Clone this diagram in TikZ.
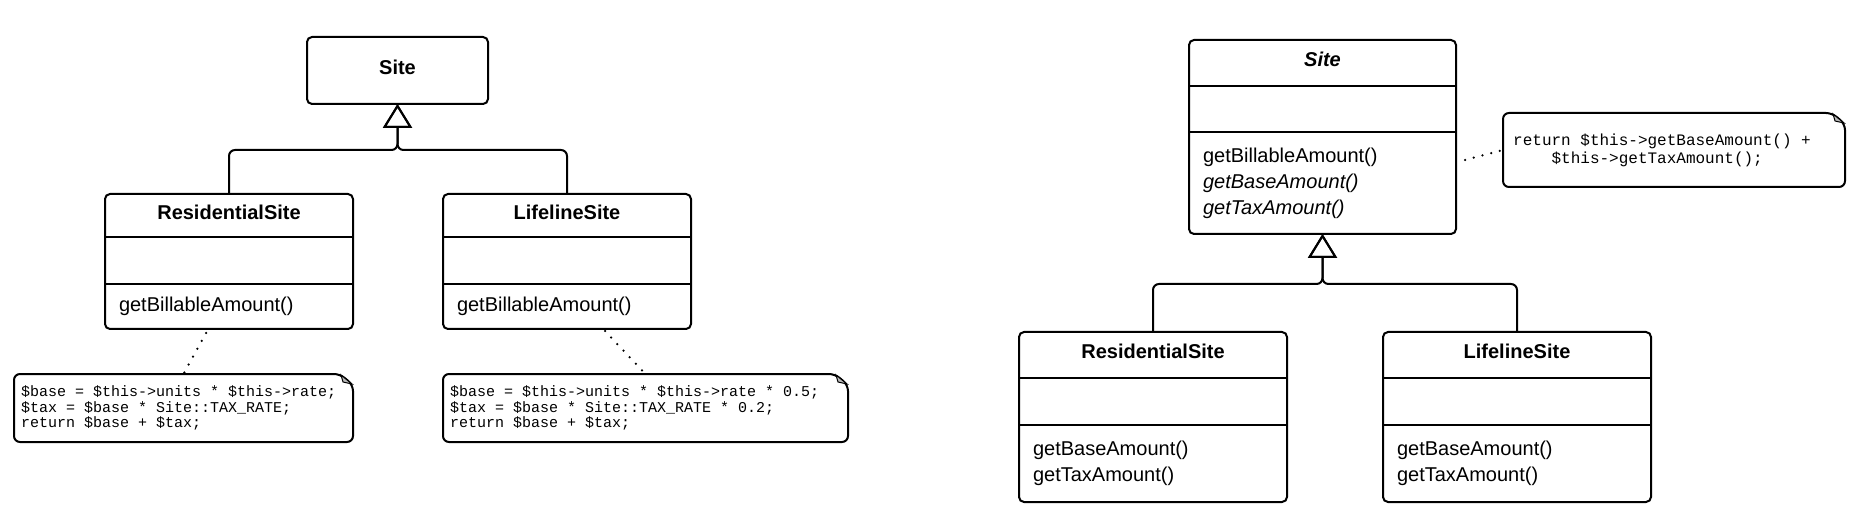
\documentclass[tikz,border=0pt]{standalone}
\usepackage{fontspec}
\setmainfont{Liberation Sans}
\setmonofont{Liberation Mono}
\usetikzlibrary{positioning,arrows.meta}

\begin{document}
\begin{tikzpicture}[
  x=1pt, y=-1pt,
  classe/.style={draw, line width=2pt, rounded corners=5pt, outer sep=0pt, inner sep=0pt, font=\fontsize{20}{26}\selectfont\bfseries},
  titulo/.style={inner sep=0pt, outer sep=0pt, yshift=3.5pt, font=\fontsize{20}{26}\selectfont\bfseries},
  atrib/.style={inner sep=0pt, outer sep=0pt},
  metodo/.style={inner xsep=14pt, inner ysep=0pt, outer sep=0pt, align=left, font=\fontsize{20}{26}\selectfont},
  divisa/.style={line width=2pt},
  nota/.style={inner sep=0pt, outer sep=0pt},
  codigo/.style={inner sep=0pt, align=left, font=\ttfamily\fontsize{15}{15.5}\selectfont},
  contorno/.style={line width=2pt, rounded corners=6pt},
  dobra/.style={draw, line width=1pt, fill=gray!55},
  heranca/.style={line width=2pt, rounded corners=6pt, -{Triangle[open, length=24pt, width=29pt]}},
  elo/.style={line width=2.5pt, line cap=round, dash pattern=on 0pt off 9pt}
]
\useasboundingbox (0,0) rectangle (1868,526);

% left: Site with two subclasses
\node[classe, minimum width=181pt, minimum height=67pt] (site1) at (397.5,70.5) {};
\node[titulo] (site1n) at (site1.center) {Site};

\node[classe, minimum width=248pt, minimum height=135pt] (res1) at (229,261.5) {};
\node[titulo, minimum height=43pt, below=0pt of res1.north] (res1n) {ResidentialSite};
\node[atrib, minimum height=47pt, below=0pt of res1.north, yshift=-43pt] (res1a) {};
\node[metodo, minimum height=45pt, below right=0pt and 0pt of res1a.south -| res1.west] (res1m) {getBillableAmount()};

\node[classe, minimum width=248pt, minimum height=135pt] (life1) at (567,261.5) {};
\node[titulo, minimum height=43pt, below=0pt of life1.north] (life1n) {LifelineSite};
\node[atrib, minimum height=47pt, below=0pt of life1.north, yshift=-43pt] (life1a) {};
\node[metodo, minimum height=45pt, below right=0pt and 0pt of life1a.south -| life1.west] (life1m) {getBillableAmount()};

\node[nota, minimum width=339pt, minimum height=68pt] (n1) at (183.5,408) {};
\node[codigo, right=7pt of n1.west] (n1t) {\$base = \$this->units * \$this->rate;\\\$tax = \$base * Site::TAX\_RATE;\\return \$base + \$tax;};
\node[nota, minimum width=405pt, minimum height=68pt] (n2) at (645.5,408) {};
\node[codigo, right=7pt of n2.west] (n2t) {\$base = \$this->units * \$this->rate * 0.5;\\\$tax = \$base * Site::TAX\_RATE * 0.2;\\return \$base + \$tax;};

% right: template method version
\node[classe, minimum width=267pt, minimum height=194pt] (site2) at (1322.5,137) {};
\node[titulo, minimum height=46pt, below=0pt of site2.north] (site2n) {\itshape Site};
\node[atrib, minimum height=46pt, below=0pt of site2.north, yshift=-46pt] (site2a) {};
\node[metodo, minimum height=102pt, below right=0pt and 0pt of site2a.south -| site2.west] (site2m) {getBillableAmount()\\\textit{getBaseAmount()}\\\textit{getTaxAmount()}};

\node[classe, minimum width=268pt, minimum height=170pt] (res2) at (1153,417) {};
\node[titulo, minimum height=46pt, below=0pt of res2.north] (res2n) {ResidentialSite};
\node[atrib, minimum height=47pt, below=0pt of res2.north, yshift=-46pt] (res2a) {};
\node[metodo, minimum height=77pt, below right=0pt and 0pt of res2a.south -| res2.west] (res2m) {getBaseAmount()\\getTaxAmount()};

\node[classe, minimum width=268pt, minimum height=170pt] (life2) at (1517,417) {};
\node[titulo, minimum height=46pt, below=0pt of life2.north] (life2n) {LifelineSite};
\node[atrib, minimum height=47pt, below=0pt of life2.north, yshift=-46pt] (life2a) {};
\node[metodo, minimum height=77pt, below right=0pt and 0pt of life2a.south -| life2.west] (life2m) {getBaseAmount()\\getTaxAmount()};

\node[nota, minimum width=342pt, minimum height=74pt] (n3) at (1674,150) {};
\node[codigo, font=\ttfamily\fontsize{16}{18}\selectfont, right=10pt of n3.west] (n3t) {return \$this->getBaseAmount() +\\\hphantom{xxxx}\$this->getTaxAmount();};

% compartment lines
\foreach \c in {res1,life1,site2,res2,life2}
  \draw[divisa] (\c a.north -| \c.west) -- (\c a.north -| \c.east)
                (\c a.south -| \c.west) -- (\c a.south -| \c.east);

% note outlines with folded corner
\foreach \n in {n1,n2,n3} {
  \draw[contorno] (\n.west) |- ([xshift=-13pt]\n.north east) -- ([yshift=-11pt]\n.north east) |- (\n.south west) -- cycle;
  \draw[dobra] ([xshift=-12pt,yshift=-1pt]\n.north east) -- ([xshift=-1pt,yshift=-10pt]\n.north east) -- ([xshift=-10pt,yshift=-8pt]\n.north east) -- cycle;
}

% generalisation
\draw[heranca] (res1.north) -- ++(0,-44) -| (site1.south);
\draw[heranca] (life1.north) -- ++(0,-44) -| (site1.south);
\draw[heranca] (res2.north) -- ++(0,-48) -| (site2.south);
\draw[heranca] (life2.north) -- ++(0,-48) -| (site2.south);

% note links
\draw[elo] ([xshift=-23pt,yshift=-4pt]res1.south) -- (n1.north);
\draw[elo] ([xshift=38pt,yshift=-2pt]life1.south) -- (n2.north);
\draw[elo] ([xshift=9pt,yshift=-23pt]site2.east) -- (n3.west);
\end{tikzpicture}
\end{document}
